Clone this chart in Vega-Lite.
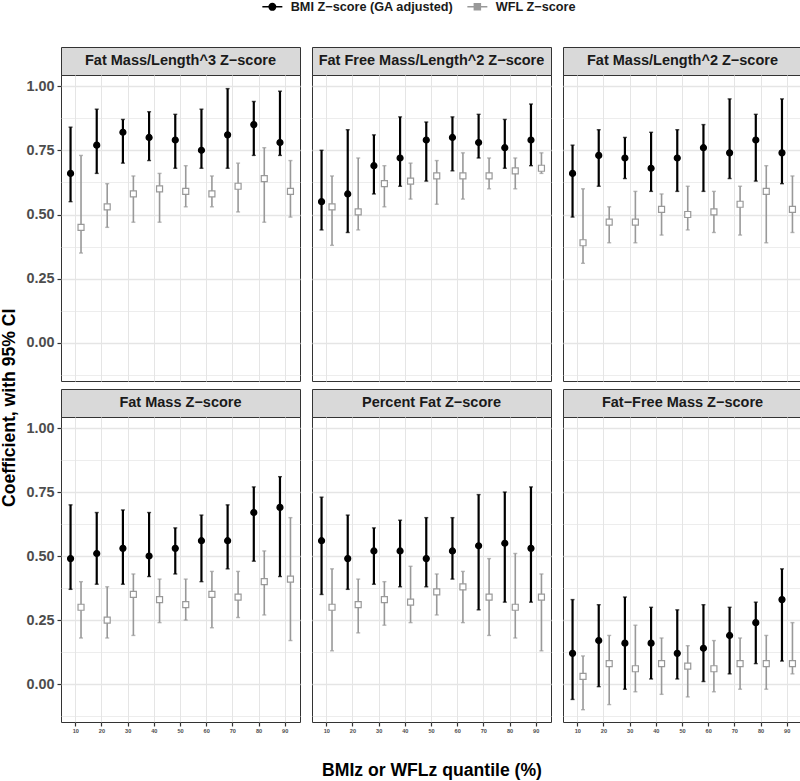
{
  "$schema": "https://vega.github.io/schema/vega-lite/v6.json",
  "autosize": {"type": "pad"},
  "padding": 0,
  "background": "white",
  "title": {"text": "Coefficient, with 95% CI", "orient": "left", "anchor": "middle", "fontSize": 17.6, "fontWeight": "bold", "font": "Liberation Sans", "color": "#000000", "offset": 7, "dx": -18},
  "datasets": {
    "coefs": [
      {"panel": "Fat Mass/Length^3 Z−score", "quantile": 10, "series": "BMI Z−score (GA adjusted)", "coef": 0.66, "lo": 0.55, "hi": 0.84},
      {"panel": "Fat Mass/Length^3 Z−score", "quantile": 20, "series": "BMI Z−score (GA adjusted)", "coef": 0.77, "lo": 0.66, "hi": 0.91},
      {"panel": "Fat Mass/Length^3 Z−score", "quantile": 30, "series": "BMI Z−score (GA adjusted)", "coef": 0.82, "lo": 0.70, "hi": 0.87},
      {"panel": "Fat Mass/Length^3 Z−score", "quantile": 40, "series": "BMI Z−score (GA adjusted)", "coef": 0.80, "lo": 0.71, "hi": 0.90},
      {"panel": "Fat Mass/Length^3 Z−score", "quantile": 50, "series": "BMI Z−score (GA adjusted)", "coef": 0.79, "lo": 0.68, "hi": 0.89},
      {"panel": "Fat Mass/Length^3 Z−score", "quantile": 60, "series": "BMI Z−score (GA adjusted)", "coef": 0.75, "lo": 0.68, "hi": 0.91},
      {"panel": "Fat Mass/Length^3 Z−score", "quantile": 70, "series": "BMI Z−score (GA adjusted)", "coef": 0.81, "lo": 0.68, "hi": 0.99},
      {"panel": "Fat Mass/Length^3 Z−score", "quantile": 80, "series": "BMI Z−score (GA adjusted)", "coef": 0.85, "lo": 0.73, "hi": 0.94},
      {"panel": "Fat Mass/Length^3 Z−score", "quantile": 90, "series": "BMI Z−score (GA adjusted)", "coef": 0.78, "lo": 0.73, "hi": 0.98},
      {"panel": "Fat Mass/Length^3 Z−score", "quantile": 10, "series": "WFL Z−score", "coef": 0.45, "lo": 0.35, "hi": 0.73},
      {"panel": "Fat Mass/Length^3 Z−score", "quantile": 20, "series": "WFL Z−score", "coef": 0.53, "lo": 0.45, "hi": 0.62},
      {"panel": "Fat Mass/Length^3 Z−score", "quantile": 30, "series": "WFL Z−score", "coef": 0.58, "lo": 0.47, "hi": 0.65},
      {"panel": "Fat Mass/Length^3 Z−score", "quantile": 40, "series": "WFL Z−score", "coef": 0.60, "lo": 0.47, "hi": 0.66},
      {"panel": "Fat Mass/Length^3 Z−score", "quantile": 50, "series": "WFL Z−score", "coef": 0.59, "lo": 0.53, "hi": 0.69},
      {"panel": "Fat Mass/Length^3 Z−score", "quantile": 60, "series": "WFL Z−score", "coef": 0.58, "lo": 0.53, "hi": 0.65},
      {"panel": "Fat Mass/Length^3 Z−score", "quantile": 70, "series": "WFL Z−score", "coef": 0.61, "lo": 0.51, "hi": 0.70},
      {"panel": "Fat Mass/Length^3 Z−score", "quantile": 80, "series": "WFL Z−score", "coef": 0.64, "lo": 0.47, "hi": 0.76},
      {"panel": "Fat Mass/Length^3 Z−score", "quantile": 90, "series": "WFL Z−score", "coef": 0.59, "lo": 0.49, "hi": 0.71},
      {"panel": "Fat Free Mass/Length^2 Z−score", "quantile": 10, "series": "BMI Z−score (GA adjusted)", "coef": 0.55, "lo": 0.44, "hi": 0.75},
      {"panel": "Fat Free Mass/Length^2 Z−score", "quantile": 20, "series": "BMI Z−score (GA adjusted)", "coef": 0.58, "lo": 0.43, "hi": 0.83},
      {"panel": "Fat Free Mass/Length^2 Z−score", "quantile": 30, "series": "BMI Z−score (GA adjusted)", "coef": 0.69, "lo": 0.58, "hi": 0.81},
      {"panel": "Fat Free Mass/Length^2 Z−score", "quantile": 40, "series": "BMI Z−score (GA adjusted)", "coef": 0.72, "lo": 0.61, "hi": 0.88},
      {"panel": "Fat Free Mass/Length^2 Z−score", "quantile": 50, "series": "BMI Z−score (GA adjusted)", "coef": 0.79, "lo": 0.63, "hi": 0.86},
      {"panel": "Fat Free Mass/Length^2 Z−score", "quantile": 60, "series": "BMI Z−score (GA adjusted)", "coef": 0.80, "lo": 0.67, "hi": 0.88},
      {"panel": "Fat Free Mass/Length^2 Z−score", "quantile": 70, "series": "BMI Z−score (GA adjusted)", "coef": 0.78, "lo": 0.72, "hi": 0.89},
      {"panel": "Fat Free Mass/Length^2 Z−score", "quantile": 80, "series": "BMI Z−score (GA adjusted)", "coef": 0.76, "lo": 0.68, "hi": 0.87},
      {"panel": "Fat Free Mass/Length^2 Z−score", "quantile": 90, "series": "BMI Z−score (GA adjusted)", "coef": 0.79, "lo": 0.69, "hi": 0.93},
      {"panel": "Fat Free Mass/Length^2 Z−score", "quantile": 10, "series": "WFL Z−score", "coef": 0.53, "lo": 0.38, "hi": 0.65},
      {"panel": "Fat Free Mass/Length^2 Z−score", "quantile": 20, "series": "WFL Z−score", "coef": 0.51, "lo": 0.44, "hi": 0.72},
      {"panel": "Fat Free Mass/Length^2 Z−score", "quantile": 30, "series": "WFL Z−score", "coef": 0.62, "lo": 0.53, "hi": 0.69},
      {"panel": "Fat Free Mass/Length^2 Z−score", "quantile": 40, "series": "WFL Z−score", "coef": 0.63, "lo": 0.56, "hi": 0.70},
      {"panel": "Fat Free Mass/Length^2 Z−score", "quantile": 50, "series": "WFL Z−score", "coef": 0.65, "lo": 0.54, "hi": 0.71},
      {"panel": "Fat Free Mass/Length^2 Z−score", "quantile": 60, "series": "WFL Z−score", "coef": 0.65, "lo": 0.56, "hi": 0.74},
      {"panel": "Fat Free Mass/Length^2 Z−score", "quantile": 70, "series": "WFL Z−score", "coef": 0.65, "lo": 0.60, "hi": 0.72},
      {"panel": "Fat Free Mass/Length^2 Z−score", "quantile": 80, "series": "WFL Z−score", "coef": 0.67, "lo": 0.60, "hi": 0.72},
      {"panel": "Fat Free Mass/Length^2 Z−score", "quantile": 90, "series": "WFL Z−score", "coef": 0.68, "lo": 0.66, "hi": 0.74},
      {"panel": "Fat Mass/Length^2 Z−score", "quantile": 10, "series": "BMI Z−score (GA adjusted)", "coef": 0.66, "lo": 0.49, "hi": 0.77},
      {"panel": "Fat Mass/Length^2 Z−score", "quantile": 20, "series": "BMI Z−score (GA adjusted)", "coef": 0.73, "lo": 0.61, "hi": 0.83},
      {"panel": "Fat Mass/Length^2 Z−score", "quantile": 30, "series": "BMI Z−score (GA adjusted)", "coef": 0.72, "lo": 0.64, "hi": 0.80},
      {"panel": "Fat Mass/Length^2 Z−score", "quantile": 40, "series": "BMI Z−score (GA adjusted)", "coef": 0.68, "lo": 0.59, "hi": 0.82},
      {"panel": "Fat Mass/Length^2 Z−score", "quantile": 50, "series": "BMI Z−score (GA adjusted)", "coef": 0.72, "lo": 0.59, "hi": 0.83},
      {"panel": "Fat Mass/Length^2 Z−score", "quantile": 60, "series": "BMI Z−score (GA adjusted)", "coef": 0.76, "lo": 0.59, "hi": 0.85},
      {"panel": "Fat Mass/Length^2 Z−score", "quantile": 70, "series": "BMI Z−score (GA adjusted)", "coef": 0.74, "lo": 0.64, "hi": 0.95},
      {"panel": "Fat Mass/Length^2 Z−score", "quantile": 80, "series": "BMI Z−score (GA adjusted)", "coef": 0.79, "lo": 0.63, "hi": 0.89},
      {"panel": "Fat Mass/Length^2 Z−score", "quantile": 90, "series": "BMI Z−score (GA adjusted)", "coef": 0.74, "lo": 0.62, "hi": 0.95},
      {"panel": "Fat Mass/Length^2 Z−score", "quantile": 10, "series": "WFL Z−score", "coef": 0.39, "lo": 0.31, "hi": 0.60},
      {"panel": "Fat Mass/Length^2 Z−score", "quantile": 20, "series": "WFL Z−score", "coef": 0.47, "lo": 0.39, "hi": 0.53},
      {"panel": "Fat Mass/Length^2 Z−score", "quantile": 30, "series": "WFL Z−score", "coef": 0.47, "lo": 0.39, "hi": 0.59},
      {"panel": "Fat Mass/Length^2 Z−score", "quantile": 40, "series": "WFL Z−score", "coef": 0.52, "lo": 0.42, "hi": 0.58},
      {"panel": "Fat Mass/Length^2 Z−score", "quantile": 50, "series": "WFL Z−score", "coef": 0.50, "lo": 0.44, "hi": 0.61},
      {"panel": "Fat Mass/Length^2 Z−score", "quantile": 60, "series": "WFL Z−score", "coef": 0.51, "lo": 0.43, "hi": 0.59},
      {"panel": "Fat Mass/Length^2 Z−score", "quantile": 70, "series": "WFL Z−score", "coef": 0.54, "lo": 0.42, "hi": 0.61},
      {"panel": "Fat Mass/Length^2 Z−score", "quantile": 80, "series": "WFL Z−score", "coef": 0.59, "lo": 0.39, "hi": 0.69},
      {"panel": "Fat Mass/Length^2 Z−score", "quantile": 90, "series": "WFL Z−score", "coef": 0.52, "lo": 0.43, "hi": 0.65},
      {"panel": "Fat Mass Z−score", "quantile": 10, "series": "BMI Z−score (GA adjusted)", "coef": 0.49, "lo": 0.37, "hi": 0.70},
      {"panel": "Fat Mass Z−score", "quantile": 20, "series": "BMI Z−score (GA adjusted)", "coef": 0.51, "lo": 0.39, "hi": 0.67},
      {"panel": "Fat Mass Z−score", "quantile": 30, "series": "BMI Z−score (GA adjusted)", "coef": 0.53, "lo": 0.39, "hi": 0.68},
      {"panel": "Fat Mass Z−score", "quantile": 40, "series": "BMI Z−score (GA adjusted)", "coef": 0.50, "lo": 0.42, "hi": 0.67},
      {"panel": "Fat Mass Z−score", "quantile": 50, "series": "BMI Z−score (GA adjusted)", "coef": 0.53, "lo": 0.43, "hi": 0.61},
      {"panel": "Fat Mass Z−score", "quantile": 60, "series": "BMI Z−score (GA adjusted)", "coef": 0.56, "lo": 0.40, "hi": 0.66},
      {"panel": "Fat Mass Z−score", "quantile": 70, "series": "BMI Z−score (GA adjusted)", "coef": 0.56, "lo": 0.45, "hi": 0.70},
      {"panel": "Fat Mass Z−score", "quantile": 80, "series": "BMI Z−score (GA adjusted)", "coef": 0.67, "lo": 0.48, "hi": 0.77},
      {"panel": "Fat Mass Z−score", "quantile": 90, "series": "BMI Z−score (GA adjusted)", "coef": 0.69, "lo": 0.42, "hi": 0.81},
      {"panel": "Fat Mass Z−score", "quantile": 10, "series": "WFL Z−score", "coef": 0.30, "lo": 0.18, "hi": 0.40},
      {"panel": "Fat Mass Z−score", "quantile": 20, "series": "WFL Z−score", "coef": 0.25, "lo": 0.18, "hi": 0.38},
      {"panel": "Fat Mass Z−score", "quantile": 30, "series": "WFL Z−score", "coef": 0.35, "lo": 0.19, "hi": 0.43},
      {"panel": "Fat Mass Z−score", "quantile": 40, "series": "WFL Z−score", "coef": 0.33, "lo": 0.24, "hi": 0.41},
      {"panel": "Fat Mass Z−score", "quantile": 50, "series": "WFL Z−score", "coef": 0.31, "lo": 0.25, "hi": 0.41},
      {"panel": "Fat Mass Z−score", "quantile": 60, "series": "WFL Z−score", "coef": 0.35, "lo": 0.22, "hi": 0.44},
      {"panel": "Fat Mass Z−score", "quantile": 70, "series": "WFL Z−score", "coef": 0.34, "lo": 0.26, "hi": 0.44},
      {"panel": "Fat Mass Z−score", "quantile": 80, "series": "WFL Z−score", "coef": 0.40, "lo": 0.27, "hi": 0.52},
      {"panel": "Fat Mass Z−score", "quantile": 90, "series": "WFL Z−score", "coef": 0.41, "lo": 0.17, "hi": 0.65},
      {"panel": "Percent Fat Z−score", "quantile": 10, "series": "BMI Z−score (GA adjusted)", "coef": 0.56, "lo": 0.35, "hi": 0.73},
      {"panel": "Percent Fat Z−score", "quantile": 20, "series": "BMI Z−score (GA adjusted)", "coef": 0.49, "lo": 0.37, "hi": 0.66},
      {"panel": "Percent Fat Z−score", "quantile": 30, "series": "BMI Z−score (GA adjusted)", "coef": 0.52, "lo": 0.39, "hi": 0.61},
      {"panel": "Percent Fat Z−score", "quantile": 40, "series": "BMI Z−score (GA adjusted)", "coef": 0.52, "lo": 0.38, "hi": 0.64},
      {"panel": "Percent Fat Z−score", "quantile": 50, "series": "BMI Z−score (GA adjusted)", "coef": 0.49, "lo": 0.38, "hi": 0.65},
      {"panel": "Percent Fat Z−score", "quantile": 60, "series": "BMI Z−score (GA adjusted)", "coef": 0.52, "lo": 0.41, "hi": 0.65},
      {"panel": "Percent Fat Z−score", "quantile": 70, "series": "BMI Z−score (GA adjusted)", "coef": 0.54, "lo": 0.29, "hi": 0.74},
      {"panel": "Percent Fat Z−score", "quantile": 80, "series": "BMI Z−score (GA adjusted)", "coef": 0.55, "lo": 0.32, "hi": 0.75},
      {"panel": "Percent Fat Z−score", "quantile": 90, "series": "BMI Z−score (GA adjusted)", "coef": 0.53, "lo": 0.32, "hi": 0.77},
      {"panel": "Percent Fat Z−score", "quantile": 10, "series": "WFL Z−score", "coef": 0.30, "lo": 0.13, "hi": 0.45},
      {"panel": "Percent Fat Z−score", "quantile": 20, "series": "WFL Z−score", "coef": 0.31, "lo": 0.20, "hi": 0.41},
      {"panel": "Percent Fat Z−score", "quantile": 30, "series": "WFL Z−score", "coef": 0.33, "lo": 0.23, "hi": 0.40},
      {"panel": "Percent Fat Z−score", "quantile": 40, "series": "WFL Z−score", "coef": 0.32, "lo": 0.24, "hi": 0.46},
      {"panel": "Percent Fat Z−score", "quantile": 50, "series": "WFL Z−score", "coef": 0.36, "lo": 0.27, "hi": 0.43},
      {"panel": "Percent Fat Z−score", "quantile": 60, "series": "WFL Z−score", "coef": 0.38, "lo": 0.24, "hi": 0.44},
      {"panel": "Percent Fat Z−score", "quantile": 70, "series": "WFL Z−score", "coef": 0.34, "lo": 0.19, "hi": 0.49},
      {"panel": "Percent Fat Z−score", "quantile": 80, "series": "WFL Z−score", "coef": 0.30, "lo": 0.18, "hi": 0.51},
      {"panel": "Percent Fat Z−score", "quantile": 90, "series": "WFL Z−score", "coef": 0.34, "lo": 0.13, "hi": 0.43},
      {"panel": "Fat−Free Mass Z−score", "quantile": 10, "series": "BMI Z−score (GA adjusted)", "coef": 0.12, "lo": -0.06, "hi": 0.33},
      {"panel": "Fat−Free Mass Z−score", "quantile": 20, "series": "BMI Z−score (GA adjusted)", "coef": 0.17, "lo": -0.01, "hi": 0.31},
      {"panel": "Fat−Free Mass Z−score", "quantile": 30, "series": "BMI Z−score (GA adjusted)", "coef": 0.16, "lo": -0.02, "hi": 0.34},
      {"panel": "Fat−Free Mass Z−score", "quantile": 40, "series": "BMI Z−score (GA adjusted)", "coef": 0.16, "lo": 0.02, "hi": 0.30},
      {"panel": "Fat−Free Mass Z−score", "quantile": 50, "series": "BMI Z−score (GA adjusted)", "coef": 0.12, "lo": 0.02, "hi": 0.29},
      {"panel": "Fat−Free Mass Z−score", "quantile": 60, "series": "BMI Z−score (GA adjusted)", "coef": 0.14, "lo": 0.01, "hi": 0.31},
      {"panel": "Fat−Free Mass Z−score", "quantile": 70, "series": "BMI Z−score (GA adjusted)", "coef": 0.19, "lo": 0.04, "hi": 0.30},
      {"panel": "Fat−Free Mass Z−score", "quantile": 80, "series": "BMI Z−score (GA adjusted)", "coef": 0.24, "lo": 0.08, "hi": 0.32},
      {"panel": "Fat−Free Mass Z−score", "quantile": 90, "series": "BMI Z−score (GA adjusted)", "coef": 0.33, "lo": 0.09, "hi": 0.45},
      {"panel": "Fat−Free Mass Z−score", "quantile": 10, "series": "WFL Z−score", "coef": 0.03, "lo": -0.10, "hi": 0.11},
      {"panel": "Fat−Free Mass Z−score", "quantile": 20, "series": "WFL Z−score", "coef": 0.08, "lo": -0.08, "hi": 0.19},
      {"panel": "Fat−Free Mass Z−score", "quantile": 30, "series": "WFL Z−score", "coef": 0.06, "lo": -0.03, "hi": 0.23},
      {"panel": "Fat−Free Mass Z−score", "quantile": 40, "series": "WFL Z−score", "coef": 0.08, "lo": -0.04, "hi": 0.18},
      {"panel": "Fat−Free Mass Z−score", "quantile": 50, "series": "WFL Z−score", "coef": 0.07, "lo": -0.05, "hi": 0.15},
      {"panel": "Fat−Free Mass Z−score", "quantile": 60, "series": "WFL Z−score", "coef": 0.06, "lo": -0.03, "hi": 0.17},
      {"panel": "Fat−Free Mass Z−score", "quantile": 70, "series": "WFL Z−score", "coef": 0.08, "lo": -0.02, "hi": 0.18},
      {"panel": "Fat−Free Mass Z−score", "quantile": 80, "series": "WFL Z−score", "coef": 0.08, "lo": -0.02, "hi": 0.19},
      {"panel": "Fat−Free Mass Z−score", "quantile": 90, "series": "WFL Z−score", "coef": 0.08, "lo": 0.04, "hi": 0.24}
    ]
  },
  "spacing": 6,
  "vconcat": [
    {
      "hconcat": [
        {"vconcat": [
          {"width": 239, "height": 28, "view": {"fill": "#D9D9D9", "stroke": "#333333"}, "data": {"values": [{"panel": "Fat Mass/Length^3 Z−score"}]}, "mark": {"type": "text", "fontSize": 14.5, "fontWeight": "bold", "font": "Liberation Sans", "color": "#1A1A1A"}, "encoding": {"text": {"field": "panel", "type": "nominal"}}},
          {"width": 239, "height": 306, "data": {"name": "coefs"}, "transform": [{"filter": {"field": "panel", "equal": "Fat Mass/Length^3 Z−score"}}],
           "resolve": {"axis": {"y": "independent"}},
           "encoding": {
             "x": {"field": "quantile", "type": "ordinal", "scale": {"paddingInner": 0, "paddingOuter": 0.065}, "axis": {"title": null, "labels": false, "ticks": false, "grid": true, "bandPosition": 0.5}},
             "xOffset": {"field": "series", "type": "nominal", "scale": {"domain": ["BMI Z−score (GA adjusted)", "WFL Z−score"], "paddingInner": 0, "paddingOuter": 0.25}},
             "color": {"field": "series", "type": "nominal", "scale": {"domain": ["BMI Z−score (GA adjusted)", "WFL Z−score"], "range": ["#000000", "#999999"]}, "legend": {"title": null, "orient": "none", "legendX": 205, "legendY": -47, "direction": "horizontal", "labelFontSize": 12.7, "labelFontWeight": "bold", "labelColor": "#1A1A1A", "labelFont": "Liberation Sans", "labelLimit": 0, "symbolSize": 100, "symbolStrokeWidth": 1.5, "labelOffset": 12, "columnPadding": 10, "padding": 0, "encode": {"symbols": {"update": {"shape": {"signal": "datum.value === 'WFL Z−score' ? 'M-2,0L2,0M-0.6,-0.6L0.6,-0.6L0.6,0.6L-0.6,0.6Z' : 'M-2,0L2,0M0.65,0A0.65,0.65,0,1,1,-0.65,0A0.65,0.65,0,1,1,0.65,0Z'"}, "fill": {"signal": "datum.value === 'WFL Z−score' ? 'transparent' : '#000000'"}}}}}}
           },
           "layer": [
             {"mark": {"type": "rule"}, "encoding": {"y": {"field": "lo", "type": "quantitative", "scale": {"domain": [-0.148, 1.043], "nice": false, "zero": false}, "axis": {"title": null, "orient": "left", "grid": true, "labels": false, "ticks": false, "values": [-0.125, 0.125, 0.375, 0.625, 0.875], "gridWidth": 0.7}}, "y2": {"field": "hi"}, "strokeWidth": {"condition": {"test": "datum.series === 'WFL Z−score'", "value": 1.6}, "value": 2.2}}},
             {"mark": {"type": "tick", "orient": "horizontal", "size": 4, "thickness": 1.4}, "encoding": {"y": {"field": "lo", "type": "quantitative", "axis": {"title": null, "orient": "left", "grid": true, "values": [0, 0.25, 0.5, 0.75, 1], "format": ".2f", "labelFontSize": 14.4, "labelPadding": 3, "tickSize": 4, "tickWidth": 1.2, "gridWidth": 1.3}}}},
             {"mark": {"type": "tick", "orient": "horizontal", "size": 4, "thickness": 1.4}, "encoding": {"y": {"field": "hi", "type": "quantitative", "axis": null}}},
             {"mark": {"type": "point", "filled": false, "opacity": 1, "size": 36, "strokeWidth": 1.2}, "encoding": {"y": {"field": "coef", "type": "quantitative", "axis": null}, "shape": {"condition": {"test": "datum.series === 'WFL Z−score'", "value": "square"}, "value": "circle"}, "fill": {"condition": {"test": "datum.series === 'WFL Z−score'", "value": "#FFFFFF"}, "value": "#000000"}}}
           ]}
        ], "spacing": 0, "bounds": "flush"},
        {"vconcat": [
          {"width": 239, "height": 28, "view": {"fill": "#D9D9D9", "stroke": "#333333"}, "data": {"values": [{"panel": "Fat Free Mass/Length^2 Z−score"}]}, "mark": {"type": "text", "fontSize": 14.5, "fontWeight": "bold", "font": "Liberation Sans", "color": "#1A1A1A"}, "encoding": {"text": {"field": "panel", "type": "nominal"}}},
          {"width": 239, "height": 306, "data": {"name": "coefs"}, "transform": [{"filter": {"field": "panel", "equal": "Fat Free Mass/Length^2 Z−score"}}],
           "resolve": {"axis": {"y": "independent"}},
           "encoding": {
             "x": {"field": "quantile", "type": "ordinal", "scale": {"paddingInner": 0, "paddingOuter": 0.065}, "axis": {"title": null, "labels": false, "ticks": false, "grid": true, "bandPosition": 0.5}},
             "xOffset": {"field": "series", "type": "nominal", "scale": {"domain": ["BMI Z−score (GA adjusted)", "WFL Z−score"], "paddingInner": 0, "paddingOuter": 0.25}},
             "color": {"field": "series", "type": "nominal", "scale": {"domain": ["BMI Z−score (GA adjusted)", "WFL Z−score"], "range": ["#000000", "#999999"]}, "legend": {"title": null, "orient": "none", "legendX": 205, "legendY": -47, "direction": "horizontal", "labelFontSize": 12.7, "labelFontWeight": "bold", "labelColor": "#1A1A1A", "labelFont": "Liberation Sans", "labelLimit": 0, "symbolSize": 100, "symbolStrokeWidth": 1.5, "labelOffset": 12, "columnPadding": 10, "padding": 0, "encode": {"symbols": {"update": {"shape": {"signal": "datum.value === 'WFL Z−score' ? 'M-2,0L2,0M-0.6,-0.6L0.6,-0.6L0.6,0.6L-0.6,0.6Z' : 'M-2,0L2,0M0.65,0A0.65,0.65,0,1,1,-0.65,0A0.65,0.65,0,1,1,0.65,0Z'"}, "fill": {"signal": "datum.value === 'WFL Z−score' ? 'transparent' : '#000000'"}}}}}}
           },
           "layer": [
             {"mark": {"type": "rule"}, "encoding": {"y": {"field": "lo", "type": "quantitative", "scale": {"domain": [-0.148, 1.043], "nice": false, "zero": false}, "axis": {"title": null, "orient": "left", "grid": true, "labels": false, "ticks": false, "values": [-0.125, 0.125, 0.375, 0.625, 0.875], "gridWidth": 0.7}}, "y2": {"field": "hi"}, "strokeWidth": {"condition": {"test": "datum.series === 'WFL Z−score'", "value": 1.6}, "value": 2.2}}},
             {"mark": {"type": "tick", "orient": "horizontal", "size": 4, "thickness": 1.4}, "encoding": {"y": {"field": "lo", "type": "quantitative", "axis": {"title": null, "orient": "left", "grid": true, "labels": false, "ticks": false, "values": [0, 0.25, 0.5, 0.75, 1], "gridWidth": 1.3}}}},
             {"mark": {"type": "tick", "orient": "horizontal", "size": 4, "thickness": 1.4}, "encoding": {"y": {"field": "hi", "type": "quantitative", "axis": null}}},
             {"mark": {"type": "point", "filled": false, "opacity": 1, "size": 36, "strokeWidth": 1.2}, "encoding": {"y": {"field": "coef", "type": "quantitative", "axis": null}, "shape": {"condition": {"test": "datum.series === 'WFL Z−score'", "value": "square"}, "value": "circle"}, "fill": {"condition": {"test": "datum.series === 'WFL Z−score'", "value": "#FFFFFF"}, "value": "#000000"}}}
           ]}
        ], "spacing": 0, "bounds": "flush"},
        {"vconcat": [
          {"width": 239, "height": 28, "view": {"fill": "#D9D9D9", "stroke": "#333333"}, "data": {"values": [{"panel": "Fat Mass/Length^2 Z−score"}]}, "mark": {"type": "text", "fontSize": 14.5, "fontWeight": "bold", "font": "Liberation Sans", "color": "#1A1A1A"}, "encoding": {"text": {"field": "panel", "type": "nominal"}}},
          {"width": 239, "height": 306, "data": {"name": "coefs"}, "transform": [{"filter": {"field": "panel", "equal": "Fat Mass/Length^2 Z−score"}}],
           "resolve": {"axis": {"y": "independent"}},
           "encoding": {
             "x": {"field": "quantile", "type": "ordinal", "scale": {"paddingInner": 0, "paddingOuter": 0.065}, "axis": {"title": null, "labels": false, "ticks": false, "grid": true, "bandPosition": 0.5}},
             "xOffset": {"field": "series", "type": "nominal", "scale": {"domain": ["BMI Z−score (GA adjusted)", "WFL Z−score"], "paddingInner": 0, "paddingOuter": 0.25}},
             "color": {"field": "series", "type": "nominal", "scale": {"domain": ["BMI Z−score (GA adjusted)", "WFL Z−score"], "range": ["#000000", "#999999"]}, "legend": {"title": null, "orient": "none", "legendX": 205, "legendY": -47, "direction": "horizontal", "labelFontSize": 12.7, "labelFontWeight": "bold", "labelColor": "#1A1A1A", "labelFont": "Liberation Sans", "labelLimit": 0, "symbolSize": 100, "symbolStrokeWidth": 1.5, "labelOffset": 12, "columnPadding": 10, "padding": 0, "encode": {"symbols": {"update": {"shape": {"signal": "datum.value === 'WFL Z−score' ? 'M-2,0L2,0M-0.6,-0.6L0.6,-0.6L0.6,0.6L-0.6,0.6Z' : 'M-2,0L2,0M0.65,0A0.65,0.65,0,1,1,-0.65,0A0.65,0.65,0,1,1,0.65,0Z'"}, "fill": {"signal": "datum.value === 'WFL Z−score' ? 'transparent' : '#000000'"}}}}}}
           },
           "layer": [
             {"mark": {"type": "rule"}, "encoding": {"y": {"field": "lo", "type": "quantitative", "scale": {"domain": [-0.148, 1.043], "nice": false, "zero": false}, "axis": {"title": null, "orient": "left", "grid": true, "labels": false, "ticks": false, "values": [-0.125, 0.125, 0.375, 0.625, 0.875], "gridWidth": 0.7}}, "y2": {"field": "hi"}, "strokeWidth": {"condition": {"test": "datum.series === 'WFL Z−score'", "value": 1.6}, "value": 2.2}}},
             {"mark": {"type": "tick", "orient": "horizontal", "size": 4, "thickness": 1.4}, "encoding": {"y": {"field": "lo", "type": "quantitative", "axis": {"title": null, "orient": "left", "grid": true, "labels": false, "ticks": false, "values": [0, 0.25, 0.5, 0.75, 1], "gridWidth": 1.3}}}},
             {"mark": {"type": "tick", "orient": "horizontal", "size": 4, "thickness": 1.4}, "encoding": {"y": {"field": "hi", "type": "quantitative", "axis": null}}},
             {"mark": {"type": "point", "filled": false, "opacity": 1, "size": 36, "strokeWidth": 1.2}, "encoding": {"y": {"field": "coef", "type": "quantitative", "axis": null}, "shape": {"condition": {"test": "datum.series === 'WFL Z−score'", "value": "square"}, "value": "circle"}, "fill": {"condition": {"test": "datum.series === 'WFL Z−score'", "value": "#FFFFFF"}, "value": "#000000"}}}
           ]}
        ], "spacing": 0, "bounds": "flush"}
      ],
      "spacing": 10
    },
    {
      "hconcat": [
        {"vconcat": [
          {"width": 239, "height": 28, "view": {"fill": "#D9D9D9", "stroke": "#333333"}, "data": {"values": [{"panel": "Fat Mass Z−score"}]}, "mark": {"type": "text", "fontSize": 14.5, "fontWeight": "bold", "font": "Liberation Sans", "color": "#1A1A1A"}, "encoding": {"text": {"field": "panel", "type": "nominal"}}},
          {"width": 239, "height": 305, "data": {"name": "coefs"}, "transform": [{"filter": {"field": "panel", "equal": "Fat Mass Z−score"}}],
           "resolve": {"axis": {"y": "independent"}},
           "encoding": {
             "x": {"field": "quantile", "type": "ordinal", "scale": {"paddingInner": 0, "paddingOuter": 0.065}, "axis": {"title": null, "labelAngle": 0, "labelFontSize": 5.6, "labelPadding": 2, "tickSize": 4, "tickWidth": 1.2, "grid": true, "bandPosition": 0.5}},
             "xOffset": {"field": "series", "type": "nominal", "scale": {"domain": ["BMI Z−score (GA adjusted)", "WFL Z−score"], "paddingInner": 0, "paddingOuter": 0.25}},
             "color": {"field": "series", "type": "nominal", "scale": {"domain": ["BMI Z−score (GA adjusted)", "WFL Z−score"], "range": ["#000000", "#999999"]}, "legend": {"title": null, "orient": "none", "legendX": 205, "legendY": -47, "direction": "horizontal", "labelFontSize": 12.7, "labelFontWeight": "bold", "labelColor": "#1A1A1A", "labelFont": "Liberation Sans", "labelLimit": 0, "symbolSize": 100, "symbolStrokeWidth": 1.5, "labelOffset": 12, "columnPadding": 10, "padding": 0, "encode": {"symbols": {"update": {"shape": {"signal": "datum.value === 'WFL Z−score' ? 'M-2,0L2,0M-0.6,-0.6L0.6,-0.6L0.6,0.6L-0.6,0.6Z' : 'M-2,0L2,0M0.65,0A0.65,0.65,0,1,1,-0.65,0A0.65,0.65,0,1,1,0.65,0Z'"}, "fill": {"signal": "datum.value === 'WFL Z−score' ? 'transparent' : '#000000'"}}}}}}
           },
           "layer": [
             {"mark": {"type": "rule"}, "encoding": {"y": {"field": "lo", "type": "quantitative", "scale": {"domain": [-0.148, 1.043], "nice": false, "zero": false}, "axis": {"title": null, "orient": "left", "grid": true, "labels": false, "ticks": false, "values": [-0.125, 0.125, 0.375, 0.625, 0.875], "gridWidth": 0.7}}, "y2": {"field": "hi"}, "strokeWidth": {"condition": {"test": "datum.series === 'WFL Z−score'", "value": 1.6}, "value": 2.2}}},
             {"mark": {"type": "tick", "orient": "horizontal", "size": 4, "thickness": 1.4}, "encoding": {"y": {"field": "lo", "type": "quantitative", "axis": {"title": null, "orient": "left", "grid": true, "values": [0, 0.25, 0.5, 0.75, 1], "format": ".2f", "labelFontSize": 14.4, "labelPadding": 3, "tickSize": 4, "tickWidth": 1.2, "gridWidth": 1.3}}}},
             {"mark": {"type": "tick", "orient": "horizontal", "size": 4, "thickness": 1.4}, "encoding": {"y": {"field": "hi", "type": "quantitative", "axis": null}}},
             {"mark": {"type": "point", "filled": false, "opacity": 1, "size": 36, "strokeWidth": 1.2}, "encoding": {"y": {"field": "coef", "type": "quantitative", "axis": null}, "shape": {"condition": {"test": "datum.series === 'WFL Z−score'", "value": "square"}, "value": "circle"}, "fill": {"condition": {"test": "datum.series === 'WFL Z−score'", "value": "#FFFFFF"}, "value": "#000000"}}}
           ]}
        ], "spacing": 0, "bounds": "flush"},
        {"vconcat": [
          {"width": 239, "height": 28, "view": {"fill": "#D9D9D9", "stroke": "#333333"}, "data": {"values": [{"panel": "Percent Fat Z−score"}]}, "mark": {"type": "text", "fontSize": 14.5, "fontWeight": "bold", "font": "Liberation Sans", "color": "#1A1A1A"}, "encoding": {"text": {"field": "panel", "type": "nominal"}}},
          {"width": 239, "height": 305, "data": {"name": "coefs"}, "transform": [{"filter": {"field": "panel", "equal": "Percent Fat Z−score"}}],
           "resolve": {"axis": {"y": "independent"}},
           "encoding": {
             "x": {"field": "quantile", "type": "ordinal", "scale": {"paddingInner": 0, "paddingOuter": 0.065}, "axis": {"title": "BMIz or WFLz quantile (%)", "titleFontSize": 17.6, "titlePadding": 28, "labelAngle": 0, "labelFontSize": 5.6, "labelPadding": 2, "tickSize": 4, "tickWidth": 1.2, "grid": true, "bandPosition": 0.5}},
             "xOffset": {"field": "series", "type": "nominal", "scale": {"domain": ["BMI Z−score (GA adjusted)", "WFL Z−score"], "paddingInner": 0, "paddingOuter": 0.25}},
             "color": {"field": "series", "type": "nominal", "scale": {"domain": ["BMI Z−score (GA adjusted)", "WFL Z−score"], "range": ["#000000", "#999999"]}, "legend": {"title": null, "orient": "none", "legendX": 205, "legendY": -47, "direction": "horizontal", "labelFontSize": 12.7, "labelFontWeight": "bold", "labelColor": "#1A1A1A", "labelFont": "Liberation Sans", "labelLimit": 0, "symbolSize": 100, "symbolStrokeWidth": 1.5, "labelOffset": 12, "columnPadding": 10, "padding": 0, "encode": {"symbols": {"update": {"shape": {"signal": "datum.value === 'WFL Z−score' ? 'M-2,0L2,0M-0.6,-0.6L0.6,-0.6L0.6,0.6L-0.6,0.6Z' : 'M-2,0L2,0M0.65,0A0.65,0.65,0,1,1,-0.65,0A0.65,0.65,0,1,1,0.65,0Z'"}, "fill": {"signal": "datum.value === 'WFL Z−score' ? 'transparent' : '#000000'"}}}}}}
           },
           "layer": [
             {"mark": {"type": "rule"}, "encoding": {"y": {"field": "lo", "type": "quantitative", "scale": {"domain": [-0.148, 1.043], "nice": false, "zero": false}, "axis": {"title": null, "orient": "left", "grid": true, "labels": false, "ticks": false, "values": [-0.125, 0.125, 0.375, 0.625, 0.875], "gridWidth": 0.7}}, "y2": {"field": "hi"}, "strokeWidth": {"condition": {"test": "datum.series === 'WFL Z−score'", "value": 1.6}, "value": 2.2}}},
             {"mark": {"type": "tick", "orient": "horizontal", "size": 4, "thickness": 1.4}, "encoding": {"y": {"field": "lo", "type": "quantitative", "axis": {"title": null, "orient": "left", "grid": true, "labels": false, "ticks": false, "values": [0, 0.25, 0.5, 0.75, 1], "gridWidth": 1.3}}}},
             {"mark": {"type": "tick", "orient": "horizontal", "size": 4, "thickness": 1.4}, "encoding": {"y": {"field": "hi", "type": "quantitative", "axis": null}}},
             {"mark": {"type": "point", "filled": false, "opacity": 1, "size": 36, "strokeWidth": 1.2}, "encoding": {"y": {"field": "coef", "type": "quantitative", "axis": null}, "shape": {"condition": {"test": "datum.series === 'WFL Z−score'", "value": "square"}, "value": "circle"}, "fill": {"condition": {"test": "datum.series === 'WFL Z−score'", "value": "#FFFFFF"}, "value": "#000000"}}}
           ]}
        ], "spacing": 0, "bounds": "flush"},
        {"vconcat": [
          {"width": 239, "height": 28, "view": {"fill": "#D9D9D9", "stroke": "#333333"}, "data": {"values": [{"panel": "Fat−Free Mass Z−score"}]}, "mark": {"type": "text", "fontSize": 14.5, "fontWeight": "bold", "font": "Liberation Sans", "color": "#1A1A1A"}, "encoding": {"text": {"field": "panel", "type": "nominal"}}},
          {"width": 239, "height": 305, "data": {"name": "coefs"}, "transform": [{"filter": {"field": "panel", "equal": "Fat−Free Mass Z−score"}}],
           "resolve": {"axis": {"y": "independent"}},
           "encoding": {
             "x": {"field": "quantile", "type": "ordinal", "scale": {"paddingInner": 0, "paddingOuter": 0.065}, "axis": {"title": null, "labelAngle": 0, "labelFontSize": 5.6, "labelPadding": 2, "tickSize": 4, "tickWidth": 1.2, "grid": true, "bandPosition": 0.5}},
             "xOffset": {"field": "series", "type": "nominal", "scale": {"domain": ["BMI Z−score (GA adjusted)", "WFL Z−score"], "paddingInner": 0, "paddingOuter": 0.25}},
             "color": {"field": "series", "type": "nominal", "scale": {"domain": ["BMI Z−score (GA adjusted)", "WFL Z−score"], "range": ["#000000", "#999999"]}, "legend": {"title": null, "orient": "none", "legendX": 205, "legendY": -47, "direction": "horizontal", "labelFontSize": 12.7, "labelFontWeight": "bold", "labelColor": "#1A1A1A", "labelFont": "Liberation Sans", "labelLimit": 0, "symbolSize": 100, "symbolStrokeWidth": 1.5, "labelOffset": 12, "columnPadding": 10, "padding": 0, "encode": {"symbols": {"update": {"shape": {"signal": "datum.value === 'WFL Z−score' ? 'M-2,0L2,0M-0.6,-0.6L0.6,-0.6L0.6,0.6L-0.6,0.6Z' : 'M-2,0L2,0M0.65,0A0.65,0.65,0,1,1,-0.65,0A0.65,0.65,0,1,1,0.65,0Z'"}, "fill": {"signal": "datum.value === 'WFL Z−score' ? 'transparent' : '#000000'"}}}}}}
           },
           "layer": [
             {"mark": {"type": "rule"}, "encoding": {"y": {"field": "lo", "type": "quantitative", "scale": {"domain": [-0.148, 1.043], "nice": false, "zero": false}, "axis": {"title": null, "orient": "left", "grid": true, "labels": false, "ticks": false, "values": [-0.125, 0.125, 0.375, 0.625, 0.875], "gridWidth": 0.7}}, "y2": {"field": "hi"}, "strokeWidth": {"condition": {"test": "datum.series === 'WFL Z−score'", "value": 1.6}, "value": 2.2}}},
             {"mark": {"type": "tick", "orient": "horizontal", "size": 4, "thickness": 1.4}, "encoding": {"y": {"field": "lo", "type": "quantitative", "axis": {"title": null, "orient": "left", "grid": true, "labels": false, "ticks": false, "values": [0, 0.25, 0.5, 0.75, 1], "gridWidth": 1.3}}}},
             {"mark": {"type": "tick", "orient": "horizontal", "size": 4, "thickness": 1.4}, "encoding": {"y": {"field": "hi", "type": "quantitative", "axis": null}}},
             {"mark": {"type": "point", "filled": false, "opacity": 1, "size": 36, "strokeWidth": 1.2}, "encoding": {"y": {"field": "coef", "type": "quantitative", "axis": null}, "shape": {"condition": {"test": "datum.series === 'WFL Z−score'", "value": "square"}, "value": "circle"}, "fill": {"condition": {"test": "datum.series === 'WFL Z−score'", "value": "#FFFFFF"}, "value": "#000000"}}}
           ]}
        ], "spacing": 0, "bounds": "flush"}
      ],
      "spacing": 10
    }
  ],
  "config": {
    "font": "Liberation Sans",
    "view": {"stroke": "#333333", "strokeWidth": 1},
    "axis": {"gridColor": "#E5E5E5", "domain": false, "tickColor": "#333333", "labelFont": "Liberation Sans", "labelFontWeight": "bold", "labelColor": "#4D4D4D", "titleFont": "Liberation Sans", "titleFontWeight": "bold", "titleColor": "#000000"}
  }
}
